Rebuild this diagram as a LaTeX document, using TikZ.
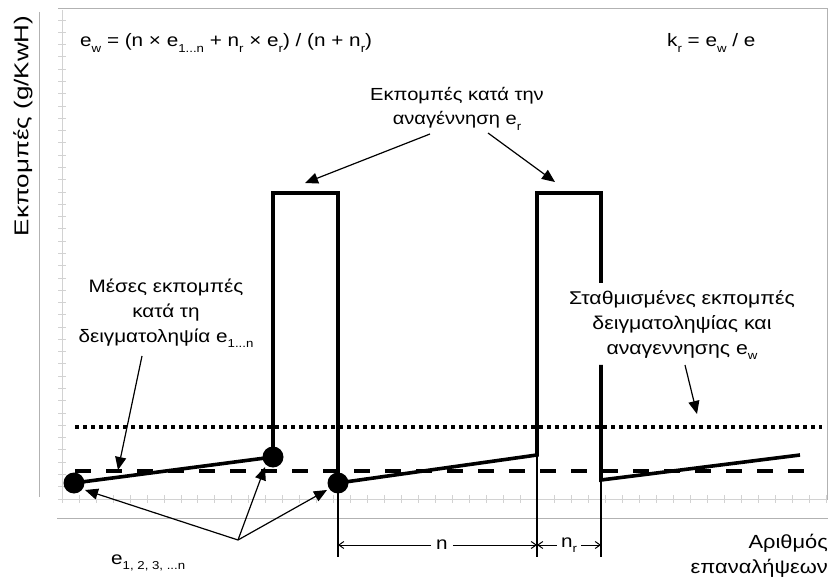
\documentclass[tikz,border=0pt]{standalone}
\usepackage{fontspec}
\setmainfont[FakeStretch=1.15]{Liberation Sans}
\newfontfamily\ylabfont[FakeStretch=1.3]{Liberation Sans}
\usetikzlibrary{arrows.meta}
\newcommand{\lsub}[1]{\raisebox{-5.5pt}{\fontsize{11.5}{11.5}\selectfont #1}}
\begin{document}
\begin{tikzpicture}[x=1pt,y=-1pt,
  framel/.style={gray!60,line width=0.9pt},
  tickl/.style={gray!35,line width=0.7pt},
  curve/.style={line width=3.6pt},
  guide/.style={line width=1.2pt},
  lbl/.style={font=\fontsize{18}{25}\selectfont,align=center,inner sep=0pt},
  callout/.style={line width=1.2pt,-{Triangle[length=13pt,width=11pt]}},
  dimarrow/.style={line width=1pt,-{Straight Barb[length=5pt,width=7pt]}},
  dot/.style={circle,fill=black,inner sep=0pt,minimum size=21pt}]
\useasboundingbox (0,0) rectangle (831,580);
% frame and axes
\draw[framel] (58,8) -- (827,8) -- (827,500);
\draw[framel] (39,12) -- (39,497);
\draw[framel] (57,518) -- (828,518);
\draw[tickl] (62,10) -- (62,499) -- (826,499);
\foreach \i in {0,...,39} \draw[tickl] (58,20+\i*12.28) -- (66,20+\i*12.28);
\foreach \i in {0,...,45} \draw[tickl] (62+\i*16.98,495) -- (62+\i*16.98,503);
% reference levels
\draw[line width=4pt,dash pattern=on 4pt off 4pt] (75,427) -- (822,427);
\draw[line width=4pt,dash pattern=on 16pt off 15pt] (75,471) -- (815,471);
% points
\coordinate (p0) at (74,483);
\coordinate (p1) at (273,457);
\coordinate (p1t) at (273,193);
\coordinate (p2t) at (338,193);
\coordinate (p2) at (338,483);
\coordinate (p3) at (537,455);
\coordinate (p3t) at (537,193);
\coordinate (p4t) at (601,193);
\coordinate (p4g) at (601,283);
\coordinate (p4h) at (601,365);
\coordinate (p4) at (601,480);
\coordinate (p5) at (800,455);
\coordinate (b2) at (338,557);
\coordinate (b3) at (537,557);
\coordinate (b4) at (601,557);
\draw[curve] (p0) -- (p1) -- (p1t) -- (p2t) -- (p2) -- (p3) -- (p3t) -- (p4t) -- (p4g);
\draw[curve] (p4h) -- (p4) -- (p5);
\node[dot] (d0) at (p0) {};
\node[dot] (d1) at (p1) {};
\node[dot] (d2) at (p2) {};
\draw[guide] (p2) -- (b2);
\draw[guide] (p3) -- (b3);
\draw[guide] (p4) -- (b4);
% dimensions
\node[lbl,fill=white,inner xsep=5pt] (nn) at (442,545) {n};
\draw[dimarrow] (nn.west) -- (338,545);
\draw[dimarrow] (nn.east) -- (537,545);
\node[lbl,fill=white,inner xsep=4pt] (nr) at (569,545) {n\lsub{r}};
\draw[dimarrow] (nr.west) -- (537,545);
\draw[dimarrow] (nr.east) -- (601,545);
% texts
\node[lbl,anchor=west] (fw) at (80,43) {e\lsub{w} = (n × e\lsub{1...n} + n\lsub{r} × e\lsub{r}) / (n + n\lsub{r})};
\node[lbl,anchor=west] (fk) at (667,43) {k\lsub{r} = e\lsub{w} / e};
\node[lbl,rotate=90,font=\ylabfont\fontsize{20}{24}\selectfont] (ylab) at (23,126) {Εκπομπές (g/KwH)};
\node[lbl,font=\fontsize{17.5}{24}\selectfont] (tr) at (457,109) {Εκπομπές κατά την\\αναγέννηση e\lsub{r}};
\node[lbl] (tm) at (166,313) {Μέσες εκπομπές\\κατά τη\\δειγματοληψία e\lsub{1...n}};
\node[lbl,font=\fontsize{18.5}{25}\selectfont] (tw) at (682,325) {Σταθμισμένες εκπομπές\\δειγματοληψίας και\\αναγεννησης e\lsub{w}};
\node[lbl,anchor=east,align=right,font=\fontsize{19}{25}\selectfont] (tx) at (828,556) {Αριθμός\\επαναλήψεων};
\node[lbl,anchor=west] (te) at (111,563) {e\lsub{1, 2, 3, ...n}};
% callouts
\coordinate (c1s) at (430,134); \coordinate (c1e) at (305,183);
\coordinate (c2s) at (488,133); \coordinate (c2e) at (555,182);
\coordinate (c3s) at (142,356); \coordinate (c3e) at (118,470);
\coordinate (c4s) at (685,365); \coordinate (c4e) at (697,414);
\coordinate (c5s) at (238,540);
\coordinate (c5a) at (85,490); \coordinate (c5b) at (265,467); \coordinate (c5c) at (327,490);
\draw[callout] (c1s) -- (c1e);
\draw[callout] (c2s) -- (c2e);
\draw[callout] (c3s) -- (c3e);
\draw[callout] (c4s) -- (c4e);
\draw[callout] (c5s) -- (c5a);
\draw[callout] (c5s) -- (c5b);
\draw[callout] (c5s) -- (c5c);
\end{tikzpicture}
\end{document}
